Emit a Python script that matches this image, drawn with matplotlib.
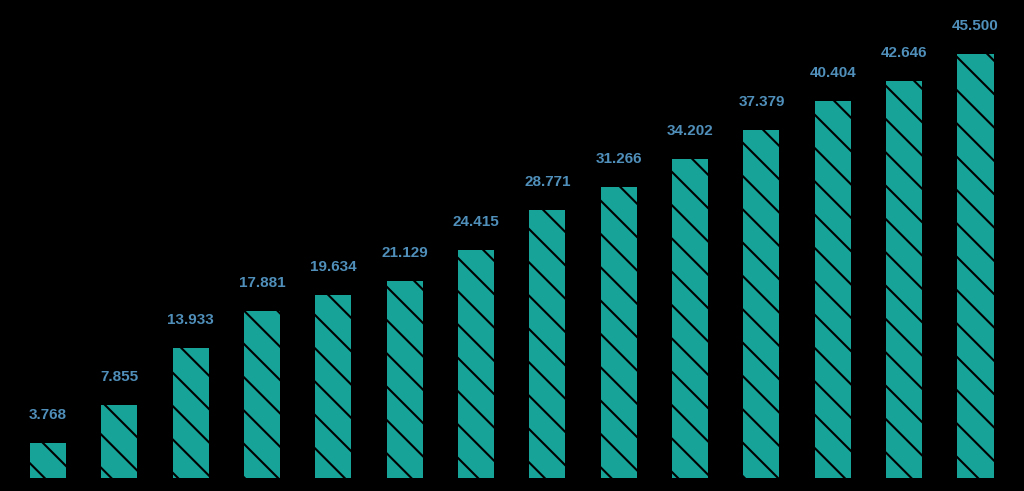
import numpy as np
import matplotlib.pyplot as plt

# nilai per batang
values = [3.768, 7.855, 13.933, 17.881, 19.634, 21.129, 24.415,
          28.771, 31.266, 34.202, 37.379, 40.404, 42.646, 45.500]
labels = [f"{v:.3f}" for v in values]

plt.rcParams['hatch.linewidth'] = 1.5
plt.rcParams['hatch.color'] = 'black'

fig = plt.figure(figsize=(10.24, 4.91), dpi=100, facecolor='black')
ax = fig.add_axes([0, 0, 1, 1], facecolor='black')

x = np.arange(len(values))
bars = ax.bar(x, values, width=0.505, color='#17a398', edgecolor='black',
              linewidth=0, hatch='\\')

for b, lab in zip(bars, labels):
    ax.annotate(lab, (b.get_x() + b.get_width() / 2, b.get_height()),
                xytext=(0, 21), textcoords='offset pixels',
                ha='center', va='bottom', fontsize=11, fontweight='bold',
                family='Liberation Sans', color='#4f8fba')

ax.set_xlim(-0.673, 13.68)
ax.set_ylim(-1.395, 51.29)
ax.axis('off')

fig.savefig('out.png', dpi=100, facecolor='black')
